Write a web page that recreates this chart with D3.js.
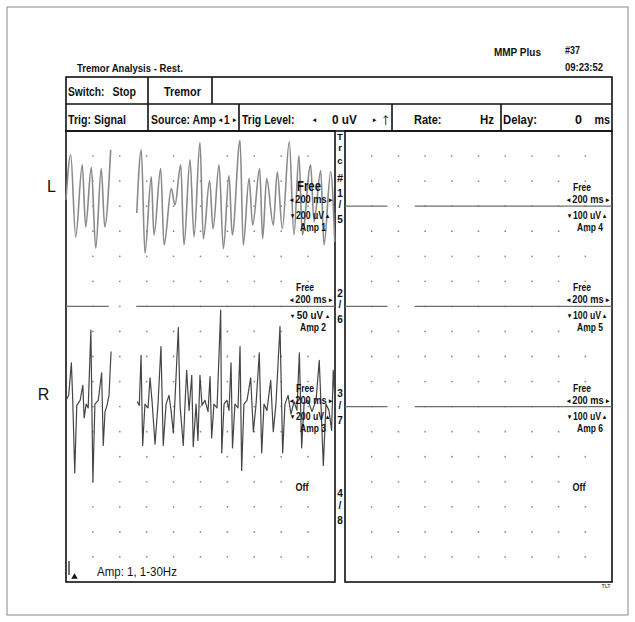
<!DOCTYPE html>
<html>
<head>
<meta charset="utf-8">
<script src="https://cdnjs.cloudflare.com/ajax/libs/d3/7.8.5/d3.min.js"></script>
<style>
body { margin: 0; background: #fff; }
text { font-family: "Liberation Sans Narrow", "Arial Narrow", "Liberation Sans", Arial, sans-serif; fill: #111; }
</style>
</head>
<body>
<div id="chart"></div>
<script>
var svgWidth = 635;
var svgHeight = 622;

// sweep: 200 ms / division, 10 divisions, with the refresh gap
var sweepMs = [0, 2000];
var sweepGapMs = [318, 522];
var divsX = 10;
var divsY = 18;

// channels
var traceIds = [['1', '5'], ['2', '6'], ['3', '7'], ['4', '8']];
var leftAmps = ['Amp 1', 'Amp 2', 'Amp 3', 'Off'];
var rightAmps = ['Amp 4', 'Amp 5', 'Amp 6', 'Off'];
var leftSens = [200, 50, 200, null];
var rightSens = [100, 100, 100, null];
var baseRows = [3, 7, 11, 15];
var sideLabels = ['L', 'R'];

// amp 1 trace (left hand), ms / uV
var amp1Ms = [0, 35, 72, 121, 146, 188, 221, 262, 288, 332,
    526, 560, 587, 634, 654, 704, 729, 783, 810, 853, 877, 922, 952, 996, 1021, 1068, 1093, 1138, 1170, 1212,
    1236, 1294, 1318, 1361, 1388, 1440, 1462, 1492, 1541, 1571, 1608, 1660, 1695, 1732, 1757, 1819, 1844, 1894,
    1918, 1968, 1998];
var amp1Uv = [50, 410, -245, 330, -165, 310, -335, 300, -165, 450,
    -55, 450, -375, 235, -230, 300, -310, 140, 10, 330, -310, 370, -245, 510, -260, 205, -180, 330, -340, 245,
    -230, 525, -310, 220, -150, 300, -260, 220, -150, 275, -180, 515, -230, 405, -230, 330, -125, 285,
    -310, 275, -285];

// amp 3 trace (right hand)
var amp3Ms = [0, 20, 40, 50, 65, 80, 105, 125, 135, 150, 165, 185, 200, 215, 240, 265, 277, 290, 305, 320, 335,
    530, 545, 558, 570, 587, 610, 625, 640, 662, 684, 706, 723, 744, 766, 781, 798, 810, 835, 848, 872,
    885, 897, 915, 935, 946, 967, 981, 996, 1011, 1033, 1056, 1071, 1083, 1100, 1123, 1150, 1158, 1175, 1197, 1212,
    1227, 1238, 1256, 1279, 1294, 1306, 1323, 1346, 1373, 1393, 1413, 1437, 1455, 1472, 1494, 1522, 1541, 1561, 1591, 1611,
    1628, 1651, 1673, 1695, 1717, 1735, 1752, 1770, 1799, 1829, 1859, 1883, 1896, 1913, 1933, 1955, 1975, 1987, 2000];
var amp3Uv = [50, 90, 350, 50, -530, 10, 50, 170, -90, 20, -10, 610, -600, 20, 50, 270, -310, -40, 10, 90, 440,
    40, 10, 410, -310, 20, -10, 230, 40, -300, 20, 480, -310, 20, 90, -30, -210, 50, 630, 10, -310,
    20, 290, -30, 250, -320, 20, -270, 250, 10, 50, -40, 240, -250, 20, -10, 770, -370, 20, 50, -30,
    350, -330, 20, -10, 480, -510, 20, 50, 230, -200, 20, 430, -370, 20, -30, 210, -200, 20, 640, -370,
    20, 90, -60, 40, -30, 430, -330, 20, 50, -40, 50, 370, 10, -470, 20, -30, -190, 290, 50];

// layout

var frame = {x: 7, y: 7, w: 621, h: 608};
var table = {left: 66, right: 612, top: 77, mid: 104, bottom: 131};
var panels = [{x0: 66, x1: 335}, {x0: 345, x1: 612}];
var panelBottom = 582;
var divH = (panelBottom - table.bottom) / divsY;

var svg = d3.select('#chart')
    .append('svg')
    .attr('height', svgHeight)
    .attr('width', svgWidth);

svg.append('rect')
    .attr('x', frame.x)
    .attr('y', frame.y)
    .attr('width', frame.w)
    .attr('height', frame.h)
    .attr('fill', 'none')
    .attr('stroke', '#8a8a8a')
    .attr('stroke-width', 1);

// squeeze a text sideways to a given width (the print uses a narrow face)
function squeeze(t, x, y, len) {
    if (len) {
        var w = t.node().getComputedTextLength();
        t.attr('transform', `translate(${x}, ${y}) scale(${len / w}, 1)`);
    }
    return t;
}

function addText(str, x, y, size, len, anchor, weight) {
    var t = svg.append('text')
        .attr('transform', `translate(${x}, ${y})`)
        .style('font-size', size + 'px')
        .style('text-anchor', anchor || 'start')
        .style('font-weight', weight || 'bold')
        .text(str);
    return squeeze(t, x, y, len);
}

// label line with small arrow marks at both ends
function arrowText(left, mid, right, x, y, len) {
    var t = svg.append('text')
        .attr('transform', `translate(${x}, ${y})`)
        .style('font-size', '10px')
        .style('text-anchor', 'middle')
        .style('font-weight', 'bold');
    t.append('tspan').style('font-size', '6.5px').attr('dy', -1).text(left);
    t.append('tspan').attr('dy', 1).text(' ' + mid + ' ');
    t.append('tspan').style('font-size', '6.5px').attr('dy', -1).text(right);
    return squeeze(t, x, y, len);
}

// title lines above the table
addText('Tremor Analysis - Rest.', 77, 72, 10.5, 106);
addText('MMP Plus', 494, 56, 10.5, 47);
addText('#37', 565, 54, 10.5, 15);
addText('09:23:52', 565, 71, 10.5, 38);

// header table

svg.append('rect')
    .attr('x', table.left)
    .attr('y', table.top)
    .attr('width', table.right - table.left)
    .attr('height', table.bottom - table.top)
    .attr('fill', 'none')
    .attr('stroke', '#111')
    .attr('stroke-width', 1.6);

svg.append('line')
    .attr('x1', table.left).attr('x2', table.right)
    .attr('y1', table.mid).attr('y2', table.mid)
    .attr('stroke', '#111').attr('stroke-width', 1.6);

[148, 212].forEach(function(x) {
    svg.append('line')
        .attr('x1', x).attr('x2', x)
        .attr('y1', table.top).attr('y2', table.mid)
        .attr('stroke', '#111').attr('stroke-width', 1.6);
});
[148, 239, 392, 501].forEach(function(x) {
    svg.append('line')
        .attr('x1', x).attr('x2', x)
        .attr('y1', table.mid).attr('y2', table.bottom)
        .attr('stroke', '#111').attr('stroke-width', 1.6);
});

addText('Switch:', 68, 96, 13.5, 36.5);
addText('Stop', 112.5, 96, 13.5, 23.5);
addText('Tremor', 164, 96, 13.5, 37);

addText('Trig: Signal', 68, 124, 13.5, 58);
addText('Source: Amp', 151, 124, 13.5, 65);
addText('\u25C2', 219, 122, 7, 3.5);
addText('1', 224, 124, 13.5, 5.5);
addText('\u25B8', 232.5, 122, 7, 3.5);
addText('Trig Level:', 242, 124, 13.5, 52.5);
addText('\u25C2', 313, 122, 7, 3.5);
addText('0 uV', 332, 124, 13.5, 25);
addText('\u25B8', 372.5, 122, 7, 3.5);
addText('\u2191', 385.5, 125, 17, 10, 'middle');
addText('Rate:', 414, 124, 13.5, 27.5);
addText('Hz', 480, 124, 13.5, 14);
addText('Delay:', 503, 124, 13.5, 34);
addText('0', 575, 124, 13.5, 7);
addText('ms', 594.5, 124, 13.5, 15.5);

// panels, grid dots

panels.forEach(function(p) {
    var gx = d3.scaleLinear().domain([0, divsX]).range([p.x0, p.x1]);
    var gy = d3.scaleLinear().domain([0, divsY]).range([table.bottom, panelBottom]);
    var pts = [];
    d3.range(1, divsX).forEach(function(i) {
        d3.range(1, divsY).forEach(function(j) {
            pts.push([gx(i), gy(j)]);
        });
    });
    svg.append('g')
        .selectAll('circle')
        .data(pts)
        .enter()
        .append('circle')
        .attr('cx', d => d[0])
        .attr('cy', d => d[1])
        .attr('r', 0.9)
        .attr('fill', '#8c8c8c');

    svg.append('rect')
        .attr('x', p.x0)
        .attr('y', table.bottom)
        .attr('width', p.x1 - p.x0)
        .attr('height', panelBottom - table.bottom)
        .attr('fill', 'none')
        .attr('stroke', '#111')
        .attr('stroke-width', 1.6);
});

var xLeft = d3.scaleLinear().domain(sweepMs).range([panels[0].x0, panels[0].x1]);
var xRight = d3.scaleLinear().domain(sweepMs).range([panels[1].x0, panels[1].x1]);

function baseY(row) {
    return table.bottom + row * divH;
}

function yScale(row, sens) {
    return d3.scaleLinear()
        .domain([0, sens])
        .range([baseY(row), baseY(row) - divH]);
}

// flat traces (channels with no signal)

function flatLine(xs, row) {
    [[sweepMs[0], sweepGapMs[0]], [sweepGapMs[1], sweepMs[1]]].forEach(function(seg) {
        svg.append('line')
            .attr('x1', xs(seg[0])).attr('x2', xs(seg[1]))
            .attr('y1', baseY(row)).attr('y2', baseY(row))
            .attr('stroke', '#6e6e6e')
            .attr('stroke-width', 1.3);
    });
}

flatLine(xLeft, baseRows[1]);
flatLine(xRight, baseRows[0]);
flatLine(xRight, baseRows[1]);
flatLine(xRight, baseRows[2]);

// signal traces

function drawTrace(msArr, uvArr, row, sens, curve, color, width) {
    var y = yScale(row, sens);
    var data = msArr.map((m, i) => ({ms: m, uv: uvArr[i]}));
    var split = (sweepGapMs[0] + sweepGapMs[1]) / 2;
    var line = d3.line()
        .x(d => xLeft(d.ms))
        .y(d => y(d.uv))
        .curve(curve);
    [data.filter(d => d.ms < split), data.filter(d => d.ms >= split)].forEach(function(seg) {
        svg.append('path')
            .attr('d', line(seg))
            .attr('fill', 'none')
            .attr('stroke', color)
            .attr('stroke-width', width)
            .attr('stroke-linejoin', 'round');
    });
}

drawTrace(amp1Ms, amp1Uv, baseRows[0], leftSens[0], d3.curveMonotoneX, '#8a8a8a', 1.6);
drawTrace(amp3Ms, amp3Uv, baseRows[2], leftSens[2], d3.curveLinear, '#454545', 1.2);

// channel labels at the right of each panel

function channelLabels(right, row, sens, amp, bigFree) {
    var b = baseY(row);
    if (sens === null) {
        addText('Off', right - 33, b - 16, 10, 13, 'middle');
        return;
    }
    if (bigFree) {
        addText('Free', right - 26, b - 15, 14.5, 24, 'middle');
    } else {
        addText('Free', right - 30, b - 15, 10, 18, 'middle');
    }
    arrowText('\u25C2', '200 ms', '\u25B8', right - 24, b - 3, 44);
    arrowText('\u25BE', sens + ' uV', '\u25B4', right - 25, b + 13, 40);
    addText(amp, right - 22, b + 25, 10, 26, 'middle');
}

baseRows.forEach(function(row, i) {
    channelLabels(panels[0].x1, row, leftSens[i], leftAmps[i], i === 0);
    channelLabels(panels[1].x1, row, rightSens[i], rightAmps[i], false);
});

// trace numbers between the panels
var midX = 340;
['T', 'r', 'c', '#'].forEach(function(ch, i) {
    addText(ch, midX, [139.5, 151, 164, 182][i], i === 3 ? 11 : 9.5, null, 'middle');
});
traceIds.forEach(function(ids, i) {
    var b = baseY(baseRows[i]);
    addText(ids[0], midX, b - 9.5, 10, null, 'middle');
    addText('/', midX, b + 2, 10, null, 'middle');
    addText(ids[1], midX, b + 17, 10, null, 'middle');
});

// L / R side labels
addText(sideLabels[0], 51.5, 192, 16, null, 'middle', 'normal');
addText(sideLabels[1], 43.5, 400, 16, null, 'middle', 'normal');

// footer of left panel
addText('Amp: 1, 1-30Hz', 97, 576, 12.5, 80, 'start', 'normal');
svg.append('line')
    .attr('x1', 69).attr('x2', 69)
    .attr('y1', 561).attr('y2', 575)
    .attr('stroke', '#111').attr('stroke-width', 1.2);
svg.append('path')
    .attr('d', d3.symbol().type(d3.symbolTriangle).size(18)())
    .attr('transform', 'translate(74.5, 577)')
    .attr('fill', '#111');

addText('TLT', 606, 588, 5.5, 9, 'middle', 'normal');
</script>
</body>
</html>
